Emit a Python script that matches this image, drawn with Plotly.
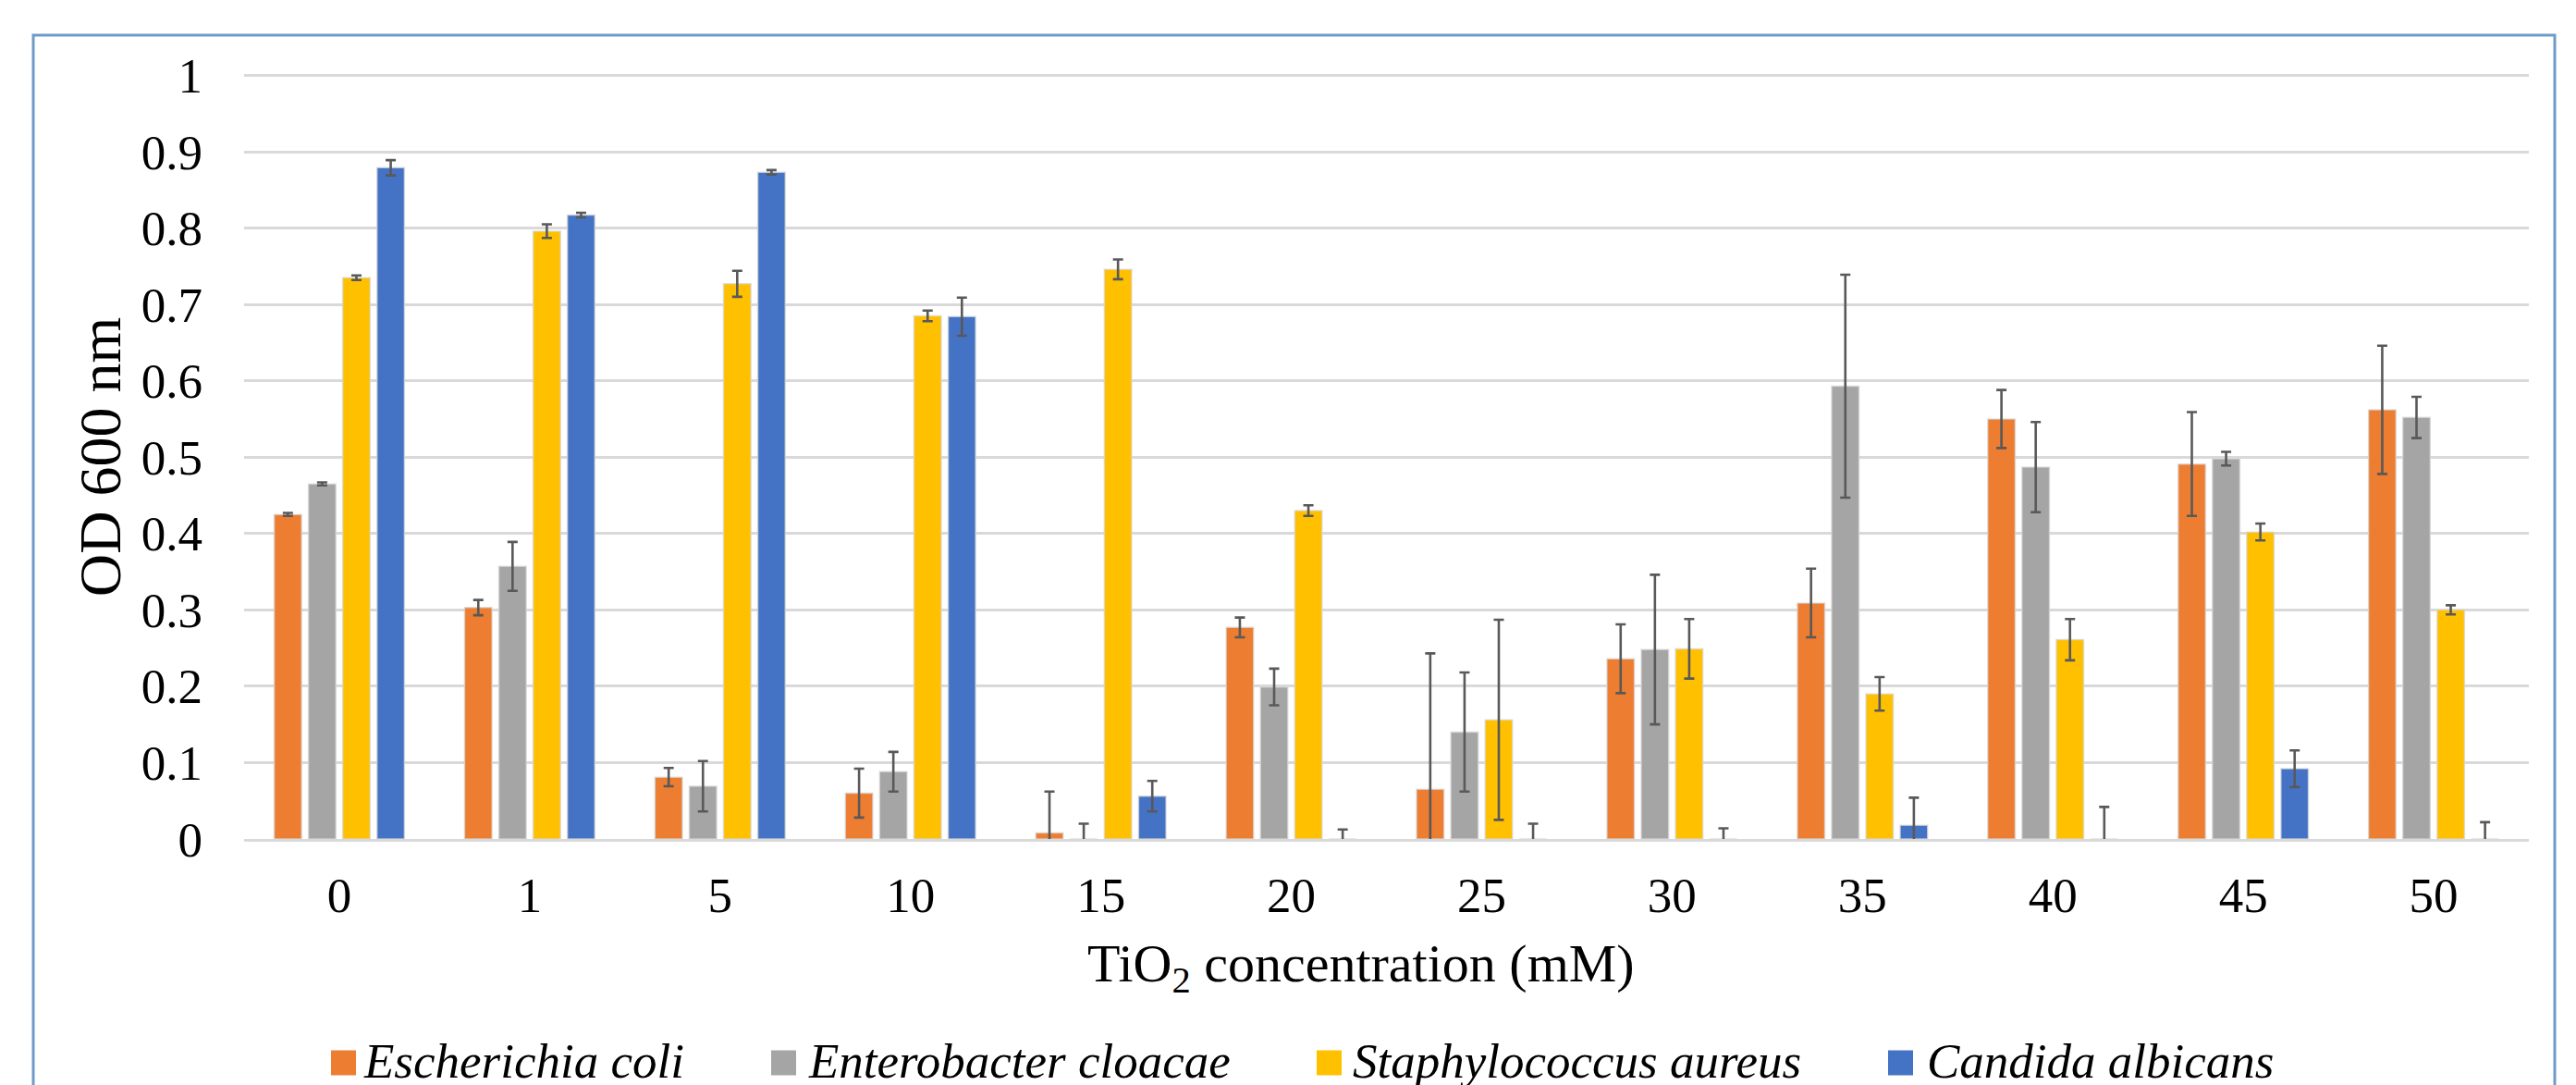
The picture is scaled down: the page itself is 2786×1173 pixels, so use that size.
import plotly.graph_objects as go

# ---------------- data ----------------
concentrations = ["0", "1", "5", "10", "15", "20", "25", "30", "35", "40", "45", "50"]

series_names = ["Escherichia coli", "Enterobacter cloacae", "Staphylococcus aureus", "Candida albicans"]
series_colors = ["#ED7D31", "#A5A5A5", "#FFC000", "#4472C4"]

ecoli = [0.425, 0.303, 0.081, 0.060, 0.008, 0.277, 0.065, 0.236, 0.309, 0.550, 0.491, 0.562]
ecoli_err = [0.002, 0.010, 0.012, 0.032, 0.054, 0.013, 0.178, 0.045, 0.045, 0.038, 0.068, 0.084]

ecloacae = [0.465, 0.357, 0.069, 0.088, 0.0, 0.199, 0.140, 0.248, 0.593, 0.487, 0.498, 0.552]
ecloacae_err = [0.002, 0.032, 0.033, 0.026, 0.020, 0.024, 0.078, 0.098, 0.146, 0.059, 0.009, 0.027]

saureus = [0.735, 0.796, 0.727, 0.685, 0.746, 0.430, 0.156, 0.249, 0.190, 0.261, 0.402, 0.300]
saureus_err = [0.003, 0.009, 0.017, 0.007, 0.013, 0.007, 0.131, 0.039, 0.022, 0.027, 0.011, 0.006]

calbicans = [0.879, 0.817, 0.873, 0.684, 0.056, 0.0, 0.0, 0.0, 0.018, 0.0, 0.092, 0.0]
calbicans_err = [0.010, 0.003, 0.003, 0.025, 0.020, 0.0125, 0.020, 0.014, 0.036, 0.042, 0.024, 0.022]

y_tickvals = [0, 0.1, 0.2, 0.3, 0.4, 0.5, 0.6, 0.7, 0.8, 0.9, 1.0]
y_ticktext = ["0", "0.1", "0.2", "0.3", "0.4", "0.5", "0.6", "0.7", "0.8", "0.9", "1"]

x_title = "TiO<sub>2</sub> concentration (mM)"
y_title = "OD 600 nm"

# ---------------- layout geometry ----------------
W, H = 2786, 1173
L, R, T, B = 256, 59, 71, 274
PW = W - L - R
PH = H - T - B
Y_MAX = 1.003


def fx(px):
    return (px - L) / PW


def fy(py):
    return (H - B - py) / PH


FONT = "Liberation Serif, Times New Roman, serif"

values = [ecoli, ecloacae, saureus, calbicans]
errors = [ecoli_err, ecloacae_err, saureus_err, calbicans_err]

fig = go.Figure()
for name, color, vals, errs in zip(series_names, series_colors, values, errors):
    fig.add_trace(go.Bar(
        x=concentrations,
        y=vals,
        name=name,
        marker=dict(color=color, line=dict(color="rgba(215,215,215,0.75)", width=1.5)),
        error_y=dict(type="data", array=errs, visible=True,
                     color="#595959", thickness=2.6, width=5.5),
        showlegend=False,
    ))

shapes = []
annotations = []

# outer chart frame
shapes.append(dict(type="rect", xref="paper", yref="paper",
                   x0=fx(28), x1=fx(2755), y0=fy(1190), y1=fy(30),
                   line=dict(color="#6E9BC8", width=3), fillcolor="rgba(0,0,0,0)",
                   layer="above"))

# custom legend (large square swatches like the original)
legend_sq_x = [350, 826, 1416, 2034]
legend_txt_x = [383, 864, 1453, 2074]
sq = 27
leg_cy = 1141
for name, color, sx, tx in zip(series_names, series_colors, legend_sq_x, legend_txt_x):
    shapes.append(dict(type="rect", xref="paper", yref="paper",
                       x0=fx(sx), x1=fx(sx + sq), y0=fy(leg_cy + sq / 2), y1=fy(leg_cy - sq / 2),
                       line=dict(width=0), fillcolor=color))
    annotations.append(dict(xref="paper", yref="paper", x=fx(tx), y=fy(leg_cy - 2),
                            xanchor="left", yanchor="middle", showarrow=False,
                            text="<i>" + name + "</i>",
                            font=dict(family=FONT, size=53, color="#000000")))

# axis titles
annotations.append(dict(xref="paper", yref="paper", x=fx(100), y=fy(486),
                        xanchor="center", yanchor="middle", showarrow=False,
                        textangle=-90, text=y_title,
                        font=dict(family=FONT, size=64, color="#000000")))
annotations.append(dict(xref="paper", yref="paper", x=fx(1464), y=fy(1037),
                        xanchor="center", yanchor="middle", showarrow=False,
                        text=x_title,
                        font=dict(family=FONT, size=58, color="#000000")))

fig.update_layout(
    width=W, height=H,
    margin=dict(l=L, r=R, t=T, b=B, pad=0),
    paper_bgcolor="#FFFFFF",
    plot_bgcolor="#FFFFFF",
    barmode="group",
    bargap=0.28,
    bargroupgap=0.2,
    font=dict(family=FONT, color="#000000"),
    shapes=shapes,
    annotations=annotations,
    showlegend=False,
)

fig.update_xaxes(
    type="category",
    showgrid=False,
    showline=True, linecolor="#D9D9D9", linewidth=2.5,
    ticks="", ticklabelstandoff=13,
    tickfont=dict(family=FONT, size=53, color="#000000"),
    zeroline=False,
)
fig.update_yaxes(
    range=[0, Y_MAX],
    tickvals=y_tickvals, ticktext=y_ticktext,
    showgrid=True, gridcolor="#D9D9D9", gridwidth=2.5,
    showline=False, zeroline=False,
    ticks="", ticklabelstandoff=44,
    tickfont=dict(family=FONT, size=53, color="#000000"),
)

fig.write_html("out.html")
